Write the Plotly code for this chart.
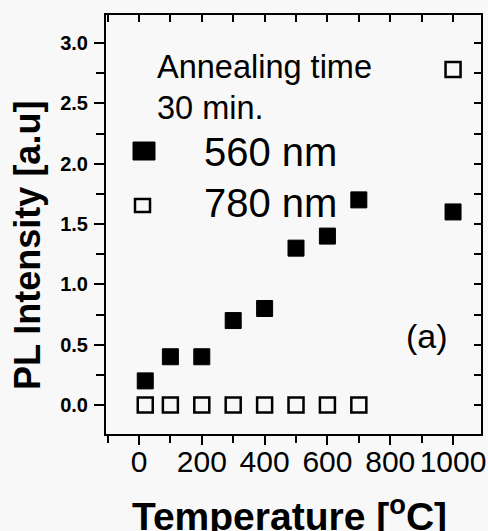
import plotly.graph_objects as go

# ---- data ----
temperature = [20, 100, 200, 300, 400, 500, 600, 700, 1000]
pl_560 = [0.2, 0.4, 0.4, 0.7, 0.8, 1.3, 1.4, 1.7, 1.6]
pl_780 = [0.0, 0.0, 0.0, 0.0, 0.0, 0.0, 0.0, 0.0, 2.78]
x_ticks = [0, 200, 400, 600, 800, 1000]
y_ticks = [0.0, 0.5, 1.0, 1.5, 2.0, 2.5, 3.0]

FONT = "Liberation Sans, Arial, Helvetica, sans-serif"
BG = "#f7f8f7"

# plot-area pixel geometry (for paper conversions)
L, R, T, B = 106, 481, 15, 434
W, H = 488, 531
def px(x):
    return (x - L) / (R - L)
def py(y):
    return (B - y) / (B - T)

fig = go.Figure()
fig.add_trace(go.Scatter(
    x=temperature, y=pl_560, mode="markers", name="560 nm",
    marker=dict(symbol="square", size=16, color="black",
                line=dict(color="black", width=1)),
    showlegend=False))
fig.add_trace(go.Scatter(
    x=temperature, y=pl_780, mode="markers", name="780 nm",
    marker=dict(symbol="square-open", size=15, color="black",
                line=dict(color="black", width=2.5)),
    showlegend=False))
# empty trace to activate mirror axes (top / right, inward ticks)
fig.add_trace(go.Scatter(x=[], y=[], xaxis="x2", yaxis="y2",
                         showlegend=False, hoverinfo="skip"))

xr = [-105, 1089]
yr = [-0.240, 3.232]

fig.update_layout(
    width=W, height=H,
    margin=dict(l=L, r=W - R, t=T, b=H - B, autoexpand=False),
    paper_bgcolor=BG, plot_bgcolor=BG,
    font=dict(family=FONT, color="black"),
    xaxis=dict(range=xr, tickvals=x_ticks, ticktext=[str(v) for v in x_ticks],
               ticks="outside", ticklen=9, tickwidth=2, tickcolor="black",
               tickangle=0, automargin=False, ticklabelstandoff=-9,
               minor=dict(ticks="outside", dtick=100, tick0=0, ticklen=7,
                          tickwidth=2, tickcolor="black"),
               showline=True, linewidth=2, linecolor="black",
               showgrid=False, zeroline=False,
               tickfont=dict(size=30, family=FONT, color="black")),
    yaxis=dict(range=yr, tickvals=y_ticks,
               ticktext=["%.1f" % v for v in y_ticks],
               ticks="outside", ticklen=10, tickwidth=2, tickcolor="black",
               automargin=False, ticklabelstandoff=2,
               minor=dict(ticks="outside", dtick=0.25, tick0=0, ticklen=8,
                          tickwidth=2, tickcolor="black"),
               showline=True, linewidth=2, linecolor="black",
               showgrid=False, zeroline=False,
               tickfont=dict(size=20, family=FONT, color="black", weight="bold")),
    xaxis2=dict(range=xr, overlaying="x", side="top", anchor="y",
                automargin=False,
                tick0=0, dtick=100, ticks="inside", ticklen=7, tickwidth=2,
                tickcolor="black", showticklabels=False, showline=True,
                linewidth=2, linecolor="black", showgrid=False, zeroline=False),
    yaxis2=dict(range=yr, overlaying="y", side="right", anchor="x",
                automargin=False,
                tick0=0, dtick=0.25, ticks="inside", ticklen=7, tickwidth=2,
                tickcolor="black", showticklabels=False, showline=True,
                linewidth=2, linecolor="black", showgrid=False, zeroline=False),
)

ann = []
ann.append(dict(text="<b>Temperature [<sup>o</sup>C]</b>", x=px(289), y=py(513),
                xref="paper", yref="paper", showarrow=False,
                xanchor="center", yanchor="middle",
                font=dict(size=39, family=FONT, color="black")))
ann.append(dict(text="<b>PL Intensity [a.u]</b>", x=px(27), y=py(246),
                xref="paper", yref="paper", showarrow=False, textangle=-90,
                xanchor="center", yanchor="middle",
                font=dict(size=36, family=FONT, color="black")))
ann.append(dict(text="Annealing time", x=px(155), y=py(67),
                xref="paper", yref="paper", showarrow=False,
                xanchor="left", yanchor="middle",
                font=dict(size=32.5, family=FONT, color="black")))
ann.append(dict(text="30 min.", x=px(155), y=py(108),
                xref="paper", yref="paper", showarrow=False,
                xanchor="left", yanchor="middle",
                font=dict(size=32.5, family=FONT, color="black")))
ann.append(dict(text="560 nm", x=px(202), y=py(152),
                xref="paper", yref="paper", showarrow=False,
                xanchor="left", yanchor="middle",
                font=dict(size=40, family=FONT, color="black")))
ann.append(dict(text="780 nm", x=px(202), y=py(203),
                xref="paper", yref="paper", showarrow=False,
                xanchor="left", yanchor="middle",
                font=dict(size=40, family=FONT, color="black")))
ann.append(dict(text="(a)", x=px(427), y=py(336),
                xref="paper", yref="paper", showarrow=False,
                xanchor="center", yanchor="middle",
                font=dict(size=34, family=FONT, color="black")))
fig.update_layout(annotations=ann)

# legend keys
fig.add_shape(type="rect", xref="paper", yref="paper",
              x0=px(133), x1=px(155), y0=py(160), y1=py(142),
              fillcolor="black", line=dict(color="black", width=1))
fig.add_shape(type="rect", xref="paper", yref="paper",
              x0=px(135), x1=px(150), y0=py(212), y1=py(199),
              fillcolor="rgba(0,0,0,0)", line=dict(color="black", width=2.5))

fig.write_html("out.html", config={"displayModeBar": False},
               post_script="document.body.style.margin='0';"
                           "document.body.style.overflow='hidden';")
